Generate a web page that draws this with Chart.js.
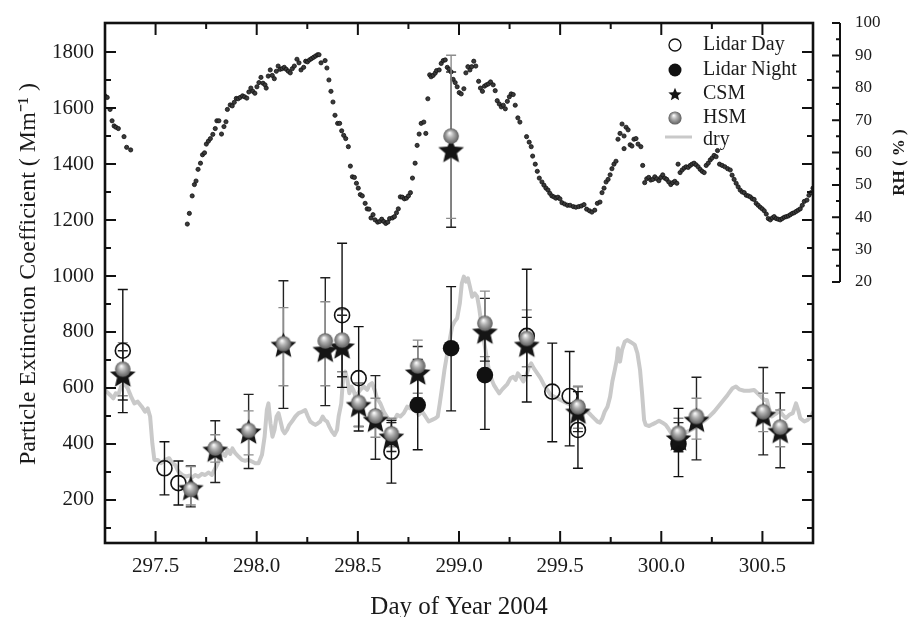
<!DOCTYPE html>
<html>
<head>
<meta charset="utf-8">
<script src="https://cdn.jsdelivr.net/npm/chart.js@4.4.1/dist/chart.umd.min.js"></script>
<style>
  html, body { margin: 0; padding: 0; background: #fff; }
  canvas { display: block; }
</style>
</head>
<body>
<canvas id="chart" width="908" height="617"></canvas>
<script>
// axis ticks
const xTicks = [297.5, 298.0, 298.5, 299.0, 299.5, 300.0, 300.5];
const xMinor = [297.75, 298.25, 298.75, 299.25, 299.75, 300.25, 300.75];
const yTicks = [200, 400, 600, 800, 1000, 1200, 1400, 1600, 1800];
const yMinor = [100, 300, 500, 700, 900, 1100, 1300, 1500, 1700];
const rhTicks = [20, 30, 40, 50, 60, 70, 80, 90, 100];
const rhMinor = [25, 35, 45, 55, 65, 75, 85, 95];

// lidar, daytime (open circles)
const lidarDayX  = [297.338, 297.544, 297.613, 298.422, 298.504, 298.666, 299.335, 299.461, 299.547, 299.588];
const lidarDayY  = [733, 313, 260, 860, 635, 372, 786, 587, 571, 450];
const lidarDayLo = [512, 218, 182, 602, 446, 260, 550, 408, 393, 313];
const lidarDayHi = [952, 408, 339, 1117, 819, 484, 1024, 760, 730, 587];

// lidar, night (filled circles)
const lidarNightX  = [298.796, 298.961, 299.128, 300.085];
const lidarNightY  = [539, 742, 646, 400];
const lidarNightLo = [379, 518, 452, 283];
const lidarNightHi = [702, 962, 840, 527];

// CSM / HSM model points
const modelX = [297.338, 297.674, 297.795, 297.960, 298.132, 298.339, 298.422, 298.504, 298.587, 298.666,
                298.796, 298.961, 299.128, 299.335, 299.588, 300.085, 300.174, 300.504, 300.588];
const csmY  = [648, 242, 379, 444, 754, 736, 748, 539, 486, 426, 655, 1450, 801, 754, 515, 420, 486, 504, 446];
const csmLo = [557, 175, 262, 312, 527, 537, 640, 462, 345, 373, 563, 1174, 696, 644, 444, 372, 343, 361, 315];
const csmHi = [733, 321, 483, 577, 983, 994, 860, 617, 644, 476, 748, 1729, 920, 852, 605, 476, 638, 673, 583];
const hsmY  = [667, 238, 385, 448, 758, 768, 771, 548, 500, 436, 679, 1500, 831, 777, 533, 438, 498, 515, 460];
const hsmLo = [572, 182, 335, 361, 608, 608, 658, 462, 424, 390, 581, 1206, 712, 676, 456, 390, 417, 444, 390];
const hsmHi = [762, 319, 433, 518, 887, 908, 880, 617, 563, 492, 771, 1789, 946, 879, 605, 492, 563, 581, 521];

// dry extinction (grey line)
const dryX = [
  297.242, 297.258, 297.275, 297.291, 297.303, 297.316, 297.329, 297.346, 297.362, 297.379,
  297.395, 297.412, 297.432, 297.448, 297.461, 297.473, 297.484, 297.494, 297.511, 297.527,
  297.547, 297.567, 297.583, 297.597, 297.613, 297.633, 297.650, 297.666, 297.682, 297.696,
  297.712, 297.729, 297.745, 297.761, 297.778, 297.791, 297.808, 297.819, 297.831, 297.844,
  297.857, 297.869, 297.880, 297.894, 297.910, 297.927, 297.943, 297.959, 297.976, 297.993,
  298.009, 298.026, 298.039, 298.050, 298.058, 298.068, 298.078, 298.088, 298.098, 298.108,
  298.118, 298.128, 298.138, 298.150, 298.161, 298.174, 298.191, 298.207, 298.224, 298.240,
  298.253, 298.265, 298.276, 298.290, 298.303, 298.314, 298.326, 298.336, 298.348, 298.359,
  298.372, 298.385, 298.397, 298.405, 298.418, 298.428, 298.438, 298.448, 298.458, 298.468,
  298.478, 298.488, 298.501, 298.512, 298.529, 298.546, 298.557, 298.570, 298.583, 298.595,
  298.611, 298.628, 298.645, 298.661, 298.677, 298.694, 298.710, 298.727, 298.744, 298.760,
  298.773, 298.785, 298.801, 298.818, 298.834, 298.850, 298.867, 298.884, 298.895, 298.905,
  298.917, 298.928, 298.942, 298.954, 298.966, 298.978, 298.991, 299.004, 299.014, 299.024,
  299.034, 299.044, 299.054, 299.065, 299.078, 299.090, 299.100, 299.110, 299.123, 299.136,
  299.148, 299.159, 299.172, 299.186, 299.199, 299.214, 299.227, 299.239, 299.255, 299.268,
  299.280, 299.291, 299.304, 299.318, 299.331, 299.346, 299.357, 299.370, 299.387, 299.403,
  299.420, 299.437, 299.453, 299.469, 299.486, 299.502, 299.519, 299.536, 299.552, 299.568,
  299.585, 299.601, 299.618, 299.635, 299.651, 299.667, 299.684, 299.697, 299.709, 299.720,
  299.734, 299.747, 299.758, 299.770, 299.780, 299.786, 299.796, 299.806, 299.819, 299.833,
  299.846, 299.857, 299.869, 299.882, 299.895, 299.905, 299.915, 299.923, 299.940, 299.956,
  299.973, 299.989, 300.006, 300.022, 300.034, 300.047, 300.063, 300.097, 300.130, 300.162,
  300.196, 300.229, 300.261, 300.295, 300.328, 300.352, 300.369, 300.385, 300.410, 300.435,
  300.459, 300.476, 300.493, 300.509, 300.522, 300.534, 300.546, 300.558, 300.572, 300.583,
  300.600, 300.616, 300.633, 300.650, 300.666, 300.677, 300.687, 300.707, 300.724, 300.740,
  300.765
];
const dryY = [
  599, 587, 575, 563, 581, 575, 605, 614, 599, 569,
  545, 551, 533, 515, 527, 498, 402, 343, 343, 331,
  343, 349, 331, 325, 301, 289, 283, 287, 281, 289,
  283, 293, 289, 298, 289, 307, 331, 355, 367, 357,
  379, 364, 384, 367, 355, 343, 340, 343, 337, 331,
  331, 361, 426, 521, 545, 474, 426, 450, 498, 510,
  480, 450, 438, 450, 468, 480, 498, 510, 515, 521,
  498, 480, 474, 468, 474, 480, 498, 486, 480, 462,
  444, 432, 450, 498, 545, 646, 658, 629, 581, 605,
  593, 569, 581, 593, 605, 593, 611, 617, 593, 563,
  545, 515, 495, 480, 480, 504, 498, 510, 533, 527,
  539, 521, 504, 515, 498, 480, 486, 492, 498, 545,
  605, 664, 724, 771, 819, 837, 849, 902, 974, 998,
  980, 992, 962, 926, 938, 926, 885, 831, 771, 712,
  664, 635, 611, 595, 581, 595, 605, 614, 635, 640,
  629, 652, 640, 623, 640, 676, 688, 670, 652, 635,
  611, 593, 575, 569, 563, 557, 551, 545, 539, 533,
  527, 521, 521, 515, 504, 492, 480, 476, 492, 515,
  533, 569, 623, 664, 700, 742, 694, 736, 765, 771,
  765, 760, 754, 724, 664, 581, 486, 468, 464, 470,
  476, 483, 476, 468, 456, 441, 426, 432, 444, 456,
  474, 492, 515, 545, 575, 599, 605, 595, 590, 590,
  593, 581, 569, 557, 557, 521, 498, 504, 510, 521,
  504, 492, 504, 510, 545, 521, 492, 480, 486, 498,
  533
];

// relative humidity (black dots, right axis)
const rhX = [
  297.250, 297.261, 297.275, 297.285, 297.295, 297.304, 297.316, 297.344, 297.357, 297.377,
  297.657, 297.667, 297.681, 297.692, 297.700, 297.710, 297.722, 297.732, 297.742, 297.751,
  297.761, 297.771, 297.783, 297.795, 297.803, 297.813, 297.826, 297.838, 297.848, 297.855,
  297.869, 297.879, 297.889, 297.899, 297.908, 297.918, 297.930, 297.940, 297.951, 297.961,
  297.971, 297.981, 297.991, 298.001, 298.011, 298.021, 298.031, 298.041, 298.047, 298.057,
  298.067, 298.077, 298.087, 298.097, 298.106, 298.116, 298.126, 298.136, 298.146, 298.156,
  298.166, 298.176, 298.186, 298.199, 298.209, 298.219, 298.232, 298.242, 298.251, 298.261,
  298.271, 298.281, 298.291, 298.301, 298.308, 298.318, 298.338, 298.347, 298.357, 298.367,
  298.377, 298.387, 298.400, 298.410, 298.420, 298.430, 298.440, 298.453, 298.463, 298.473,
  298.483, 298.493, 298.502, 298.512, 298.522, 298.536, 298.546, 298.555, 298.565, 298.575,
  298.585, 298.598, 298.608, 298.618, 298.628, 298.638, 298.648, 298.657, 298.671, 298.681,
  298.691, 298.700, 298.710, 298.720, 298.730, 298.740, 298.750, 298.760, 298.770, 298.783,
  298.793, 298.803, 298.813, 298.826, 298.836, 298.846, 298.855, 298.862, 298.872, 298.882,
  298.889, 298.902, 298.912, 298.922, 298.932, 298.942, 298.951, 298.961, 298.971, 298.981,
  298.991, 299.001, 299.011, 299.024, 299.034, 299.044, 299.054, 299.063, 299.073, 299.083,
  299.097, 299.106, 299.116, 299.126, 299.136, 299.146, 299.156, 299.169, 299.179, 299.189,
  299.199, 299.209, 299.219, 299.229, 299.239, 299.249, 299.258, 299.268, 299.278, 299.291,
  299.301, 299.334, 299.347, 299.357, 299.364, 299.377, 299.387, 299.397, 299.410, 299.420,
  299.430, 299.440, 299.449, 299.459, 299.469, 299.479, 299.489, 299.499, 299.509, 299.522,
  299.536, 299.549, 299.565, 299.578, 299.592, 299.605, 299.618, 299.631, 299.645, 299.657,
  299.671, 299.684, 299.697, 299.707, 299.717, 299.727, 299.737, 299.747, 299.756, 299.766,
  299.776, 299.786, 299.796, 299.806, 299.816, 299.816, 299.826, 299.836, 299.846, 299.855,
  299.865, 299.875, 299.885, 299.899, 299.908, 299.918, 299.928, 299.938, 299.948, 299.958,
  299.968, 299.978, 299.988, 299.998, 300.007, 300.017, 300.027, 300.037, 300.047, 300.057,
  300.067, 300.077, 300.083, 300.093, 300.103, 300.113, 300.123, 300.133, 300.143, 300.152,
  300.162, 300.172, 300.182, 300.192, 300.202, 300.212, 300.222, 300.232, 300.242, 300.251,
  300.261, 300.271, 300.278, 300.288, 300.301, 300.314, 300.328, 300.341, 300.350, 300.360,
  300.370, 300.380, 300.390, 300.400, 300.410, 300.420, 300.430, 300.440, 300.450, 300.459,
  300.469, 300.479, 300.489, 300.499, 300.509, 300.519, 300.529, 300.539, 300.549, 300.558,
  300.568, 300.578, 300.588, 300.598, 300.608, 300.618, 300.628, 300.638, 300.648, 300.657,
  300.667, 300.677, 300.687, 300.697, 300.707, 300.720, 300.730, 300.740, 300.750
];
const rhY = [
  77.5, 77.0, 73.3, 69.8, 68.2, 67.8, 67.4, 64.9, 61.6, 60.8,
  37.9, 41.2, 46.6, 50.1, 51.2, 54.8, 56.7, 59.3, 59.9, 62.6,
  63.5, 64.3, 65.6, 67.4, 69.8, 69.8, 65.7, 68.0, 69.5, 73.3,
  74.7, 74.4, 75.5, 76.7, 76.6, 77.0, 77.5, 77.2, 76.8, 78.7,
  79.9, 78.9, 78.3, 80.3, 81.6, 83.2, 81.4, 80.9, 79.9, 83.6,
  85.5, 83.8, 82.8, 85.1, 86.7, 85.7, 85.9, 86.3, 85.7, 85.1,
  84.6, 85.9, 86.7, 88.8, 87.7, 85.5, 86.3, 88.2, 88.0, 88.6,
  89.0, 89.4, 89.8, 90.2, 90.2, 87.7, 88.4, 86.1, 82.4, 78.9,
  75.6, 71.5, 69.0, 69.0, 66.7, 65.3, 64.3, 61.8, 55.8, 52.5,
  52.3, 50.5, 49.0, 47.0, 46.6, 44.3, 42.6, 42.5, 39.8, 40.8,
  39.2, 38.5, 38.7, 39.4, 38.7, 38.1, 38.5, 39.6, 39.8, 40.2,
  41.4, 42.6, 46.3, 46.2, 45.7, 45.9, 46.6, 47.6, 52.1, 56.7,
  62.2, 65.7, 69.0, 69.4, 65.9, 76.6, 84.0, 83.4, 83.8, 84.5,
  85.3, 85.5, 87.5, 88.4, 88.6, 86.3, 85.7, 84.9, 82.6, 81.6,
  80.3, 78.5, 78.1, 79.7, 84.6, 86.5, 85.5, 86.5, 88.2, 86.7,
  82.0, 79.9, 78.9, 80.5, 80.9, 81.2, 81.8, 80.9, 79.1, 76.0,
  75.0, 74.1, 74.6, 73.5, 75.8, 77.2, 78.1, 77.9, 74.6, 70.7,
  69.4, 64.9, 63.2, 61.8, 58.9, 56.4, 54.2, 52.1, 50.9, 49.9,
  49.0, 48.4, 47.4, 46.6, 46.3, 45.9, 46.2, 45.7, 44.5, 44.1,
  43.7, 43.7, 43.3, 43.1, 43.3, 43.5, 43.9, 42.5, 42.0, 41.6,
  42.2, 44.3, 44.7, 47.6, 49.0, 50.9, 51.7, 53.1, 55.0, 56.4,
  57.3, 64.1, 65.9, 68.8, 65.1, 61.2, 67.8, 67.0, 62.4, 62.0,
  64.1, 64.3, 62.6, 61.8, 56.0, 50.7, 51.9, 52.3, 51.5, 51.7,
  52.5, 51.9, 51.3, 52.3, 53.1, 52.1, 51.7, 50.9, 50.1, 50.7,
  51.1, 50.5, 56.4, 53.8, 54.6, 55.2, 55.6, 55.4, 56.0, 56.4,
  56.7, 56.2, 55.6, 54.8, 54.2, 53.8, 56.0, 56.7, 57.7, 58.3,
  59.1, 58.7, 60.6, 56.4, 56.0, 55.6, 55.0, 54.6, 53.0, 51.7,
  50.5, 49.4, 48.4, 47.8, 47.6, 46.8, 46.6, 46.3, 45.7, 45.5,
  44.3, 43.7, 43.1, 42.6, 42.0, 41.0, 39.6, 39.2, 39.8, 40.2,
  39.6, 39.4, 39.2, 39.6, 40.0, 40.2, 40.4, 40.8, 41.2, 41.4,
  41.8, 42.2, 42.6, 43.7, 44.9, 45.3, 46.8, 47.6, 49.0
];

const pts = (xs, ys) => xs.map((x, i) => ({x: x, y: ys[i]}));

function starImage(r) {
  const s = Math.ceil(2 * r + 2);
  const c = document.createElement('canvas');
  c.width = c.height = s;
  const g = c.getContext('2d');
  g.translate(s / 2, s / 2 + r * 0.1);
  g.beginPath();
  for (let k = 0; k < 10; k++) {
    const rr = k % 2 ? r * 0.45 : r;
    const a = -Math.PI / 2 + k * Math.PI / 5;
    g.lineTo(rr * Math.cos(a), rr * Math.sin(a));
  }
  g.closePath();
  g.fillStyle = '#151515';
  g.fill();
  return c;
}

function sphereImage(r) {
  const s = Math.ceil(2 * r + 2);
  const c = document.createElement('canvas');
  c.width = c.height = s;
  const g = c.getContext('2d');
  const m = s / 2;
  const grd = g.createRadialGradient(m - r * 0.2, m - r * 0.4, r * 0.05, m, m, r);
  grd.addColorStop(0, '#fafafa');
  grd.addColorStop(0.4, '#b2b2b2');
  grd.addColorStop(1, '#5e5e5e');
  g.fillStyle = grd;
  g.beginPath();
  g.arc(m, m, r, 0, Math.PI * 2);
  g.fill();
  return c;
}

const starImg = starImage(13.5);
const sphereImg = sphereImage(7.8);
const legendStar = starImage(7);
const legendSphere = sphereImage(6.6);

function errorBars(ctx, xs, ys, xv, lo, hi, color) {
  ctx.save();
  ctx.strokeStyle = color;
  ctx.lineWidth = 1.4;
  ctx.beginPath();
  for (let i = 0; i < xv.length; i++) {
    const px = xs.getPixelForValue(xv[i]);
    const a = ys.getPixelForValue(lo[i]);
    const b = ys.getPixelForValue(hi[i]);
    ctx.moveTo(px, a); ctx.lineTo(px, b);
    ctx.moveTo(px - 5, a); ctx.lineTo(px + 5, a);
    ctx.moveTo(px - 5, b); ctx.lineTo(px + 5, b);
  }
  ctx.stroke();
  ctx.restore();
}

const framePlugin = {
  id: 'frame',
  afterDatasetDraw(chart, args) {
    if (args.index !== 4) return; // after the dry line, before the markers
    const {ctx, scales: {x, y}} = chart;
    errorBars(ctx, x, y, modelX, csmLo, csmHi, '#222');
    errorBars(ctx, x, y, modelX, hsmLo, hsmHi, '#8c8c8c');
    errorBars(ctx, x, y, lidarDayX, lidarDayLo, lidarDayHi, '#111');
    errorBars(ctx, x, y, lidarNightX, lidarNightLo, lidarNightHi, '#111');
  },
  afterDraw(chart) {
    const {ctx, chartArea: a, scales: {x, y, rh}} = chart;
    ctx.save();
    ctx.strokeStyle = '#111';

    // inward tick marks on all four sides
    ctx.lineWidth = 2;
    ctx.beginPath();
    xTicks.forEach(v => {
      const p = x.getPixelForValue(v);
      ctx.moveTo(p, a.bottom); ctx.lineTo(p, a.bottom - 12);
      ctx.moveTo(p, a.top); ctx.lineTo(p, a.top + 12);
    });
    xMinor.forEach(v => {
      const p = x.getPixelForValue(v);
      ctx.moveTo(p, a.bottom); ctx.lineTo(p, a.bottom - 6);
      ctx.moveTo(p, a.top); ctx.lineTo(p, a.top + 6);
    });
    yTicks.forEach(v => {
      const p = y.getPixelForValue(v);
      ctx.moveTo(a.left, p); ctx.lineTo(a.left + 11, p);
      ctx.moveTo(a.right, p); ctx.lineTo(a.right - 11, p);
    });
    yMinor.forEach(v => {
      const p = y.getPixelForValue(v);
      ctx.moveTo(a.left, p); ctx.lineTo(a.left + 6, p);
      ctx.moveTo(a.right, p); ctx.lineTo(a.right - 6, p);
    });
    ctx.stroke();

    ctx.lineWidth = 2.6;
    ctx.strokeRect(a.left, a.top, a.right - a.left, a.bottom - a.top);

    // detached RH axis
    const rx = a.right + 27;
    ctx.lineWidth = 2;
    ctx.beginPath();
    ctx.moveTo(rx, rh.getPixelForValue(20));
    ctx.lineTo(rx, rh.getPixelForValue(100));
    rhTicks.forEach(v => { const p = rh.getPixelForValue(v); ctx.moveTo(rx, p); ctx.lineTo(rx - 8, p); });
    rhMinor.forEach(v => { const p = rh.getPixelForValue(v); ctx.moveTo(rx, p); ctx.lineTo(rx - 4, p); });
    ctx.stroke();

    ctx.fillStyle = '#1a1a1a';
    ctx.font = "bold 17px 'Liberation Serif'";
    ctx.textAlign = 'center';
    ctx.textBaseline = 'middle';
    ctx.translate(900, (rh.getPixelForValue(20) + rh.getPixelForValue(100)) / 2 + 10);
    ctx.rotate(-Math.PI / 2);
    ctx.fillText('RH ( % )', 0, 0);
    ctx.restore();

    // legend inside the plot
    const ds = chart.data.datasets;
    const lx = 675, tx = 703, rows = [45, 70, 94, 118, 140];
    ctx.save();
    ctx.strokeStyle = '#111';
    ctx.lineWidth = 1.3;
    ctx.beginPath(); ctx.arc(lx, rows[0], 6, 0, Math.PI * 2); ctx.stroke();
    ctx.fillStyle = '#111';
    ctx.beginPath(); ctx.arc(lx, rows[1], 6.5, 0, Math.PI * 2); ctx.fill();
    ctx.drawImage(legendStar, lx - legendStar.width / 2, rows[2] - legendStar.height / 2);
    ctx.drawImage(legendSphere, lx - legendSphere.width / 2, rows[3] - legendSphere.height / 2);
    ctx.strokeStyle = '#c9c9c9';
    ctx.lineWidth = 3;
    ctx.beginPath(); ctx.moveTo(lx - 10, rows[4] - 3); ctx.lineTo(lx + 17, rows[4] - 3); ctx.stroke();
    ctx.fillStyle = '#1a1a1a';
    ctx.font = "20px 'Liberation Serif'";
    ctx.textAlign = 'left';
    ctx.textBaseline = 'middle';
    for (let i = 0; i < 5; i++) ctx.fillText(ds[i].label, tx, rows[i]);
    ctx.restore();
  }
};

Chart.defaults.font.family = "'Liberation Serif', 'Times New Roman', serif";
Chart.defaults.color = '#1a1a1a';

new Chart(document.getElementById('chart'), {
  type: 'scatter',
  data: {
    datasets: [
      {
        label: 'Lidar Day',
        data: pts(lidarDayX, lidarDayY),
        pointStyle: 'circle',
        pointRadius: 7.5,
        borderColor: '#111',
        borderWidth: 1.6,
        backgroundColor: 'rgba(0,0,0,0)',
        order: 4
      },
      {
        label: 'Lidar Night',
        data: pts(lidarNightX, lidarNightY),
        pointStyle: 'circle',
        pointRadius: 8.3,
        borderWidth: 0,
        backgroundColor: '#111',
        order: 3
      },
      {
        label: 'CSM',
        data: pts(modelX, csmY),
        pointStyle: starImg,
        pointRadius: 13,
        order: 2
      },
      {
        label: 'HSM',
        data: pts(modelX, hsmY),
        pointStyle: sphereImg,
        pointRadius: 8,
        order: 1
      },
      {
        label: 'dry',
        type: 'line',
        showLine: true,
        data: pts(dryX, dryY),
        borderColor: '#c9c9c9',
        borderWidth: 4,
        borderJoinStyle: 'round',
        pointRadius: 0,
        fill: false,
        tension: 0,
        order: 5
      },
      {
        label: 'RH',
        yAxisID: 'rh',
        data: pts(rhX, rhY),
        pointStyle: 'circle',
        pointRadius: 2.1,
        backgroundColor: '#3a3a3a',
        borderColor: '#111',
        borderWidth: 0.8,
        order: 6
      }
    ]
  },
  options: {
    responsive: false,
    devicePixelRatio: 1,
    animation: false,
    events: [],
    layout: {padding: {top: 23, left: 0, right: 0, bottom: 0}},
    plugins: {legend: {display: false}, tooltip: {enabled: false}},
    scales: {
      x: {
        type: 'linear',
        position: 'bottom',
        min: 297.25,
        max: 300.75,
        afterBuildTicks: s => { s.ticks = xTicks.map(v => ({value: v})); },
        afterFit: s => { s.height = 74; },
        grid: {display: false, drawTicks: true, tickLength: 11},
        border: {display: false},
        ticks: {font: {size: 21}, padding: 0, maxRotation: 0, autoSkip: false, callback: v => v.toFixed(1)},
        title: {display: true, text: 'Day of Year 2004', font: {size: 25, lineHeight: 1}, padding: {top: 0, bottom: -3}}
      },
      y: {
        type: 'linear',
        position: 'left',
        min: 46,
        max: 1904,
        afterBuildTicks: s => { s.ticks = yTicks.map(v => ({value: v})); },
        afterFit: s => { s.width = 105; },
        grid: {display: false, drawTicks: true, tickLength: 11},
        border: {display: false},
        ticks: {font: {size: 21}, padding: 0, callback: v => String(v)},
        title: {display: true, text: '   Particle Extinction Coefficient ( Mm\u207B\u00B9 )', font: {size: 24}, padding: {top: 14, bottom: 0}}
      },
      rh: {
        type: 'linear',
        position: 'right',
        min: -60.6,
        max: 100,
        afterBuildTicks: s => { s.ticks = rhTicks.map(v => ({value: v})); },
        afterFit: s => { s.width = 95; },
        grid: {display: false, drawTicks: true, tickLength: 42, drawOnChartArea: false},
        border: {display: false},
        ticks: {font: {size: 17}, padding: 0, callback: v => String(v)}
      }
    }
  },
  plugins: [framePlugin]
});
</script>
</body>
</html>
